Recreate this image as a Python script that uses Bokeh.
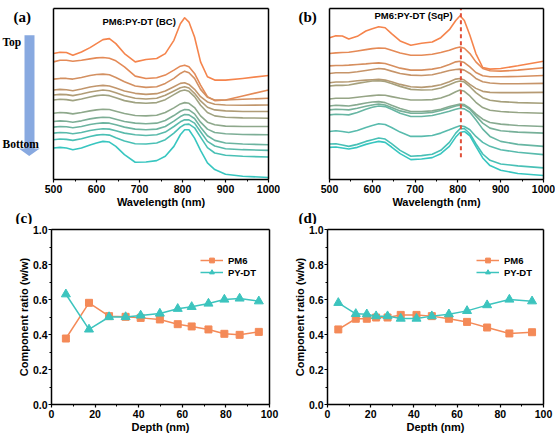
from bokeh.plotting import figure
from bokeh.layouts import column, row
from bokeh.models import (Range1d, SingleIntervalTicker, FixedTicker, Label, Legend, LegendItem,
                          LinearAxis, PrintfTickFormatter)
from bokeh.embed import file_html
from bokeh.resources import INLINE

# ---------------- data ----------------
WAVELENGTH = [500, 515, 530, 545, 565, 585, 600, 615, 630, 645, 665, 690, 715,
              740, 760, 780, 795, 805, 815, 828, 842, 858, 875, 900, 940, 1000]

# PM6:PY-DT (BC) depth-resolved absorption, offset a.u., top slice -> bottom slice
BC_SPECTRA = [
    [380, 384, 383, 375, 385, 398, 410, 422, 425, 410, 380, 355, 362, 365, 380, 420, 470, 488, 475, 430, 355, 310, 300, 300, 305, 314],
    [355, 360, 360, 357, 360, 364, 367, 368, 366, 358, 340, 312, 305, 307, 315, 330, 342, 345, 340, 320, 285, 250, 238, 240, 252, 270],
    [303, 305, 305, 303, 308, 314, 317, 318, 316, 308, 295, 282, 278, 280, 290, 305, 320, 327, 322, 305, 272, 248, 240, 240, 242, 245],
    [270, 272, 271, 268, 273, 279, 282, 284, 282, 276, 267, 260, 257, 259, 267, 280, 290, 292, 287, 272, 250, 234, 227, 225, 224, 225],
    [255, 257, 256, 253, 258, 264, 267, 270, 268, 262, 253, 245, 243, 245, 254, 267, 277, 280, 276, 260, 237, 218, 210, 207, 205, 205],
    [240, 242, 241, 238, 243, 249, 253, 255, 253, 247, 238, 232, 230, 232, 241, 256, 267, 270, 266, 250, 224, 202, 192, 188, 186, 185],
    [200, 202, 201, 198, 202, 207, 210, 212, 211, 206, 199, 193, 192, 194, 202, 216, 228, 232, 230, 217, 192, 173, 165, 161, 160, 160],
    [175, 177, 176, 173, 177, 183, 186, 188, 187, 182, 175, 170, 168, 170, 178, 193, 206, 211, 210, 198, 173, 152, 142, 138, 136, 135],
    [158, 160, 159, 156, 160, 166, 169, 171, 170, 165, 158, 152, 150, 152, 160, 176, 190, 196, 195, 184, 158, 132, 118, 110, 107, 105],
    [140, 142, 141, 138, 142, 148, 151, 153, 152, 147, 140, 135, 133, 135, 143, 160, 174, 180, 180, 170, 144, 115, 101, 93, 90, 88],
    [120, 122, 121, 118, 123, 130, 134, 136, 134, 126, 116, 108, 107, 110, 120, 140, 158, 166, 167, 156, 128, 96, 80, 73, 70, 68],
    [95, 97, 95, 90, 95, 104, 110, 115, 113, 100, 75, 52, 53, 57, 70, 100, 135, 150, 150, 125, 88, 50, 30, 16, 10, 6],
]

# PM6:PY-DT (SqP)
SQP_SPECTRA = [
    [428, 434, 433, 424, 432, 448, 455, 461, 458, 440, 418, 405, 411, 415, 428, 452, 480, 494, 480, 435, 380, 338, 333, 335, 343, 357],
    [380, 382, 383, 384, 388, 392, 395, 397, 396, 390, 382, 375, 375, 378, 383, 390, 397, 400, 396, 380, 355, 335, 328, 327, 330, 337],
    [343, 344, 344, 345, 347, 349, 351, 352, 350, 344, 336, 330, 330, 333, 338, 347, 355, 357, 353, 340, 323, 313, 310, 310, 311, 314],
    [320, 322, 322, 322, 325, 329, 332, 335, 333, 327, 320, 315, 314, 316, 322, 329, 332, 333, 330, 320, 305, 295, 291, 289, 289, 290],
    [292, 294, 294, 295, 298, 300, 301, 302, 300, 295, 287, 280, 278, 281, 286, 295, 303, 305, 300, 287, 275, 266, 263, 262, 262, 263],
    [282, 284, 284, 285, 290, 294, 297, 298, 296, 290, 281, 272, 270, 271, 276, 286, 294, 297, 294, 280, 262, 247, 239, 235, 232, 230],
    [243, 245, 245, 245, 248, 251, 253, 255, 254, 250, 245, 240, 240, 241, 246, 255, 265, 270, 266, 252, 233, 217, 209, 205, 202, 200],
    [222, 224, 223, 222, 226, 231, 234, 235, 232, 224, 214, 205, 205, 207, 212, 220, 225, 228, 226, 215, 198, 182, 172, 167, 163, 160],
    [210, 212, 211, 210, 215, 221, 225, 228, 225, 217, 207, 200, 200, 202, 208, 216, 222, 224, 222, 212, 192, 170, 155, 147, 143, 140],
    [195, 197, 196, 195, 202, 212, 218, 222, 220, 212, 200, 190, 190, 193, 199, 206, 212, 215, 213, 203, 180, 152, 130, 115, 106, 100],
    [145, 147, 145, 142, 148, 157, 163, 168, 166, 157, 143, 130, 130, 133, 140, 150, 158, 162, 160, 150, 130, 112, 100, 90, 82, 75],
    [107, 108, 104, 100, 106, 115, 120, 125, 122, 108, 88, 70, 72, 76, 88, 112, 140, 153, 154, 138, 108, 77, 58, 47, 41, 35],
    [97, 98, 95, 92, 97, 106, 111, 115, 112, 98, 78, 60, 62, 66, 78, 100, 128, 142, 145, 132, 100, 65, 42, 28, 18, 12],
]

PEAK_WL = 807
PEAK_LINE_Y = [67, 516]
SPEC_Y_MAX = 516

DEPTH_BC = [6.6, 17.2, 26.4, 34.0, 40.9, 49.7, 57.9, 64.3, 72.0, 79.3, 86.3, 95.1]
PM6_BC = [0.377, 0.581, 0.505, 0.501, 0.495, 0.486, 0.459, 0.446, 0.429, 0.404, 0.398, 0.415]
PYDT_BC = [0.630, 0.429, 0.500, 0.500, 0.509, 0.520, 0.547, 0.558, 0.577, 0.600, 0.606, 0.590]

DEPTH_SQP = [5.0, 13.1, 18.2, 22.5, 27.8, 33.9, 41.2, 48.3, 56.2, 64.6, 73.9, 84.2, 94.7]
PM6_SQP = [0.429, 0.490, 0.490, 0.497, 0.497, 0.512, 0.512, 0.505, 0.490, 0.472, 0.440, 0.406, 0.413]
PYDT_SQP = [0.581, 0.518, 0.516, 0.505, 0.505, 0.491, 0.491, 0.505, 0.516, 0.535, 0.568, 0.600, 0.590]

# ---------------- styles ----------------
SANS = "Liberation Sans"
SERIF = "Liberation Serif"
ORANGE = "#F48A58"
TEAL = "#3CC4BE"
TOP_RGB = (245, 132, 76)
BOT_RGB = (56, 198, 192)
ARROW_BLUE = "#88A9E0"


def grad(n):
    cols = []
    for i in range(n):
        t = i / (n - 1)
        c = [round(a + (b - a) * t) for a, b in zip(TOP_RGB, BOT_RGB)]
        cols.append("#%02x%02x%02x" % tuple(c))
    return cols


def empty_ticker():
    return FixedTicker(ticks=[], minor_ticks=[])


def make_fig(width, height, left, right, top, bottom, xr, yr):
    p = figure(width=width, height=height, x_range=Range1d(*xr), y_range=Range1d(*yr),
               output_backend="svg", toolbar_location=None)
    xa, ya = p.below[0], p.left[0]
    p.min_border_left = left
    p.min_border_right = right
    p.min_border_top = top
    p.min_border_bottom = bottom
    p.outline_line_color = None
    p.xgrid.visible = False
    p.ygrid.visible = False
    p.background_fill_color = "white"
    p.border_fill_color = "white"
    for side in ("above", "right"):
        ax = LinearAxis(ticker=empty_ticker(), axis_line_width=1.5, axis_line_color="black",
                        major_tick_line_color=None, minor_tick_line_color=None)
        p.add_layout(ax, side)
    return p, xa, ya


def deco_fig(width, height, x0, y0):
    # blank canvas whose data units are page pixels (y downward)
    p = figure(width=width, height=height, x_range=Range1d(x0, x0 + width),
               y_range=Range1d(y0 + height, y0), x_axis_type=None, y_axis_type=None,
               output_backend="svg", toolbar_location=None)
    p.min_border = 0
    p.outline_line_color = None
    p.background_fill_color = "white"
    p.border_fill_color = "white"
    return p


def style_axis(ax, label, standoff=2, title_standoff=0):
    ax.axis_label = label
    ax.axis_line_width = 1.5
    ax.axis_line_color = "black"
    ax.major_tick_out = 3
    ax.major_tick_in = 0
    ax.minor_tick_out = 2
    ax.minor_tick_in = 0
    ax.major_tick_line_width = 1.2
    ax.minor_tick_line_width = 1
    ax.major_label_text_font = SANS
    ax.major_label_text_font_style = "bold"
    ax.major_label_text_font_size = "10.5px"
    ax.major_label_text_color = "black"
    ax.axis_label_text_font = SANS
    ax.axis_label_text_font_style = "bold"
    ax.axis_label_text_font_size = "11px"
    ax.axis_label_text_color = "black"
    ax.major_label_standoff = standoff
    ax.axis_label_standoff = title_standoff


def px(geom, X, Y):
    L, R, T, B, x0, x1, y0, y1 = geom
    return x0 + (X - L) / (R - L) * (x1 - x0), y0 + (B - Y) / (B - T) * (y1 - y0)


def label(p, x, y, text, font, size, align="left", baseline="middle"):
    p.add_layout(Label(x=x, y=y, text=text, text_font=font, text_font_style="bold",
                       text_font_size=size, text_align=align, text_baseline=baseline,
                       text_color="black"))


# ---------------- geometry (page pixels) ----------------
GA = (53, 268, 8, 180, 500, 1000, 0, SPEC_Y_MAX)
GB = (329, 543, 8, 180, 500, 1000, 0, SPEC_Y_MAX)


def spectra_fig(width, left, right, spectra):
    p, xa, ya = make_fig(width, 210, left, right, 8, 30, (500, 1000), (0, SPEC_Y_MAX))
    ya.ticker = empty_ticker()
    ya.axis_line_width = 1.5
    ya.axis_line_color = "black"
    ya.major_tick_line_color = None
    ya.minor_tick_line_color = None
    xa.ticker = SingleIntervalTicker(interval=100, num_minor_ticks=2)
    style_axis(xa, "Wavelength (nm)")
    for s, c in zip(spectra, grad(len(spectra))):
        p.line(WAVELENGTH, s, line_color=c, line_width=1.6, line_join="round")
    return p


fa = spectra_fig(236, 9, 12, BC_SPECTRA)
fb = spectra_fig(235, 9, 12, SQP_SPECTRA)
fb.line([PEAK_WL, PEAK_WL], PEAK_LINE_Y, line_color="#E0503A", line_width=2, line_dash="4 3")
label(fa, *px(GA, 102, 21.5), "PM6:PY-DT (BC)", SANS, "9.5px")
label(fb, *px(GB, 374, 15), "PM6:PY-DT (SqP)", SANS, "9.5px")

# left decoration: (a), arrow, Top / Bottom
da = deco_fig(44, 210, 0, 0)
da.patch([24, 34, 34, 39.3, 28.7, 18.3, 24], [33, 33, 172, 172, 181, 172, 172],
         fill_color=ARROW_BLUE, line_color=None)
label(da, 13, 11, "(a)", SERIF, "15px")
label(da, 2, 41, "Top", SERIF, "11.5px")
label(da, 2, 166, "Bottom", SERIF, "11.5px")

db = deco_fig(40, 210, 280, 0)
label(db, 298, 11, "(b)", SERIF, "15px")


def ratio_fig(width, left, right, depth, pm6, pydt):
    p, xa, ya = make_fig(width, 211, left, right, 5, 31, (0, 100), (0, 1.0))
    xa.ticker = SingleIntervalTicker(interval=20, num_minor_ticks=2)
    ya.ticker = SingleIntervalTicker(interval=0.2, num_minor_ticks=2)
    ya.formatter = PrintfTickFormatter(format="%.1f")
    style_axis(xa, "Depth (nm)")
    style_axis(ya, "Component ratio (w/w)", standoff=1, title_standoff=0)
    l1 = p.line(depth, pm6, line_color=ORANGE, line_width=1.5)
    m1 = p.scatter(depth, pm6, marker="square", size=7, fill_color=ORANGE, line_color=ORANGE)
    l2 = p.line(depth, pydt, line_color=TEAL, line_width=1.5)
    m2 = p.scatter(depth, pydt, marker="triangle", size=9, fill_color=TEAL, line_color=TEAL)
    leg = Legend(items=[LegendItem(label="PM6", renderers=[l1, m1]),
                        LegendItem(label="PY-DT", renderers=[l2, m2])],
                 location=(149, 126), glyph_width=23, glyph_height=12, label_height=12,
                 label_width=10, label_standoff=5, spacing=0, padding=0, margin=0,
                 border_line_alpha=0, background_fill_alpha=0,
                 label_text_font=SANS, label_text_font_style="bold",
                 label_text_font_size="9.5px", label_text_color="black")
    p.add_layout(leg)
    return p


fc = ratio_fig(280, 51, 11, DEPTH_BC, PM6_BC, PYDT_BC)
fd = ratio_fig(275, 47, 12, DEPTH_SQP, PM6_SQP, PYDT_SQP)

strip = deco_fig(555, 14, 0, 210)
label(strip, 15, 217, "(c)", SERIF, "15px")
label(strip, 298, 217, "(d)", SERIF, "15px")

layout = column(row(da, fa, db, fb), strip, row(fc, fd))
open("out.html", "w").write(file_html(layout, INLINE))
